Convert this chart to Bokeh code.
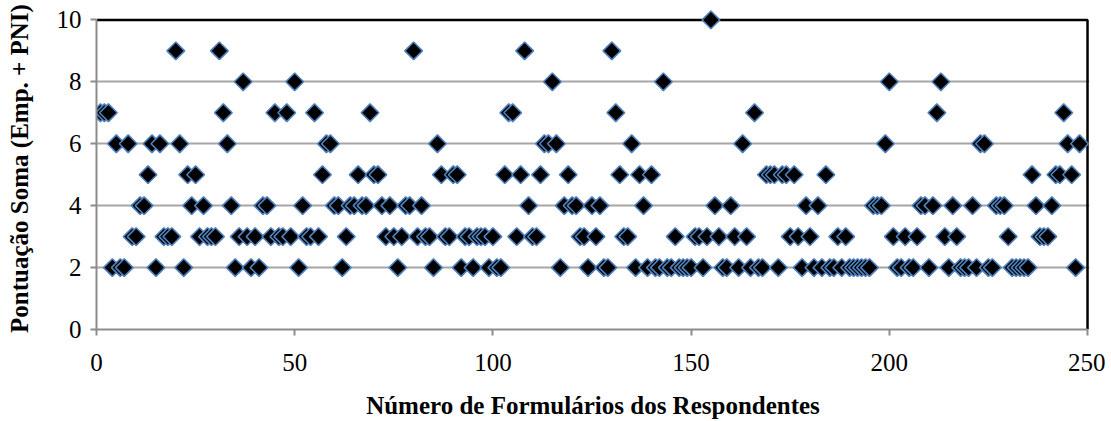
import numpy as np
from bokeh.plotting import figure
from bokeh.models import ColumnDataSource, FixedTicker
from bokeh.embed import file_html
from bokeh.resources import INLINE

respondents = list(range(1, 249))
scores = [
    7, 7, 7, 2, 6, 2, 2, 6, 3, 3, 4, 4, 5, 6, 2, 6, 3, 3, 3, 9,
    6, 2, 5, 4, 5, 3, 4, 3, 3, 3, 9, 7, 6, 4, 2, 3, 8, 3, 2, 3,
    2, 4, 4, 3, 7, 3, 3, 7, 3, 8, 2, 4, 3, 3, 7, 3, 5, 6, 6, 4,
    4, 2, 3, 4, 4, 5, 4, 4, 7, 5, 5, 4, 3, 4, 3, 2, 3, 4, 4, 9,
    3, 4, 3, 3, 2, 6, 5, 3, 3, 5, 5, 2, 3, 3, 2, 3, 3, 3, 2, 3,
    2, 2, 5, 7, 7, 3, 5, 9, 4, 3, 3, 5, 6, 6, 8, 6, 2, 4, 5, 4,
    4, 3, 3, 2, 4, 3, 4, 2, 2, 9, 7, 5, 3, 3, 6, 2, 5, 4, 2, 5,
    2, 2, 8, 2, 2, 3, 2, 2, 2, 2, 3, 3, 2, 3, 10, 4, 3, 2, 2, 4,
    3, 2, 6, 3, 2, 7, 2, 2, 5, 5, 5, 2, 5, 5, 3, 5, 3, 2, 4, 3,
    2, 4, 2, 5, 2, 2, 3, 2, 3, 2, 2, 2, 2, 2, 2, 4, 4, 4, 6, 8,
    3, 2, 2, 3, 2, 2, 3, 4, 4, 2, 4, 7, 8, 3, 2, 4, 3, 2, 2, 2,
    4, 2, 6, 6, 2, 2, 4, 4, 4, 3, 2, 2, 2, 2, 2, 5, 4, 3, 3, 3,
    4, 5, 5, 7, 6, 5, 2, 6,
]
x_ticks = [0, 50, 100, 150, 200, 250]
y_ticks = [0, 2, 4, 6, 8, 10]

src = ColumnDataSource(dict(x=respondents, y=scores))

W, H = 1105, 421
p = figure(width=W, height=H, output_backend="svg", toolbar_location=None,
           x_range=(0, 250.5), y_range=(0, 10.4),
           min_border_left=96, min_border_right=16, min_border_top=7, min_border_bottom=86)
p.background_fill_color = "white"
p.border_fill_color = "white"
p.outline_line_color = None

p.xgrid.visible = False
p.ygrid.grid_line_color = "#a6a6a6"
p.ygrid.grid_line_width = 2
p.ygrid.ticker = FixedTicker(ticks=y_ticks[1:-1])

# plot-area border (top and right edges) in black
xmax, ymax = x_ticks[-1], y_ticks[-1]
p.line(x=[x_ticks[0], xmax, xmax], y=[ymax, ymax, y_ticks[0]],
       line_color="black", line_width=2.5)

p.scatter("x", "y", source=src, marker="square", angle=np.pi / 4, size=12.5,
          fill_color="black", line_color="#4f81bd", line_width=1.6)

font = "Liberation Serif"
for ax in (p.xaxis[0], p.yaxis[0]):
    ax.axis_line_color = "#8c8c8c"
    ax.axis_line_width = 2
    ax.major_tick_line_color = "#8c8c8c"
    ax.major_tick_line_width = 2
    ax.major_tick_out = 6
    ax.major_tick_in = 0
    ax.minor_tick_line_color = None
    ax.major_label_text_font = font
    ax.major_label_text_font_size = "25px"
    ax.major_label_text_color = "black"
    ax.axis_label_text_font = font
    ax.axis_label_text_font_size = "25px"
    ax.axis_label_text_font_style = "bold"
    ax.axis_label_text_color = "black"

p.xaxis.bounds = (x_ticks[0], x_ticks[-1])
p.yaxis.bounds = (y_ticks[0], y_ticks[-1])
p.xaxis.ticker = FixedTicker(ticks=x_ticks)
p.yaxis.ticker = FixedTicker(ticks=y_ticks)
p.xaxis.axis_label = "Número de Formulários dos Respondentes"
p.yaxis.axis_label = "Pontuação Soma (Emp. + PNI)"
p.xaxis.major_label_standoff = 18
p.xaxis.axis_label_standoff = 18
p.yaxis.major_label_standoff = 9
p.yaxis.axis_label_standoff = 21

open("out.html", "w").write(file_html(p, INLINE))
